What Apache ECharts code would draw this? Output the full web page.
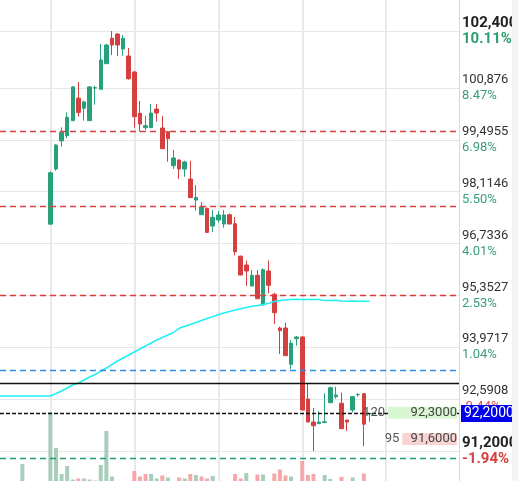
<!DOCTYPE html>
<html>
<head>
<meta charset="utf-8">
<script src="https://cdn.jsdelivr.net/npm/echarts@6/dist/echarts.min.js"></script>
<style>
  html, body { margin: 0; padding: 0; background: #fff; }
  #chart-container { width: 518px; height: 481px; }
</style>
</head>
<body>
<div id="chart-container"></div>
<script>
var chartDom = document.getElementById('chart-container');
var myChart = echarts.init(chartDom);

// time slots on the x axis, candles start at slot 9
var slotCount = 83;
var firstCandleSlot = 9;

var opens  = [97.25, 98.72, 99.47, 99.61, 100.01, 100.61, 100.34, 100.01, 100.88, 100.845,
              101.528, 102.205, 102.32, 101.92, 101.733, 101.307, 100.205, 99.822, 99.822, 100.32,
              99.813, 99.715, 98.808, 98.96, 98.72, 98.453, 97.893, 97.501, 97.67, 97.2,
              97.36, 97.253, 97.501, 97.261, 96.395, 96.16, 95.6, 95.885, 95.093, 96.0,
              95.379, 94.48, 94.48, 93.512, 94.195, 94.24, 92.587, 91.973, 91.928, 91.96,
              92.488, 92.648, 92.472, 92.027, 92.293, 92.70, 92.728, 92.19];
var closes = [98.62, 99.36, 99.70, 100.10, 100.91, 100.23, 100.51, 100.91, 100.89, 101.627,
              102.027, 102.027, 102.027, 102.205, 101.128, 100.115, 99.92, 99.875, 100.213, 100.213,
              99.261, 99.528, 99.013, 98.72, 98.907, 97.955, 97.96, 97.715, 97.03, 97.432,
              97.493, 97.493, 97.253, 96.515, 95.893, 96.0, 95.885, 95.261, 96.035, 95.619,
              94.888, 94.408, 93.741, 94.072, 94.24, 92.293, 91.973, 91.875, 91.973, 91.98,
              92.888, 92.693, 91.795, 91.973, 92.648, 92.71, 91.915, 92.2];
var lows   = [97.25, 98.675, 99.315, 99.54, 100.01, 100.115, 100.01, 100.01, 100.435, 100.845,
              101.528, 101.76, 101.733, 101.74, 101.10, 99.822, 99.715, 99.76, 99.82, 99.982,
              99.26, 98.915, 98.72, 98.453, 98.515, 97.955, 97.608, 97.5, 97.03, 97.04,
              97.288, 97.155, 97.25, 96.419, 95.89, 95.6, 95.6, 95.26, 95.09, 95.405,
              94.587, 93.787, 93.74, 93.387, 94.008, 92.29, 91.97, 91.2, 91.93, 91.955,
              92.49, 92.595, 91.79, 91.733, 92.232, 92.648, 91.325, 91.98];
var highs  = [98.65, 99.39, 99.83, 100.23, 100.93, 101.04, 100.54, 100.925, 100.94, 102.053,
              102.053, 102.40, 102.34, 102.29, 101.947, 101.33, 100.533, 100.141, 100.453, 100.453,
              100.133, 99.73, 99.227, 98.98, 98.94, 98.94, 98.293, 97.84, 97.70, 97.627,
              97.6, 97.627, 97.53, 97.44, 96.41, 96.275, 96.027, 96.027, 96.07, 96.275,
              95.421, 94.515, 94.621, 94.16, 94.267, 94.26, 93.0, 92.347, 92.259, 92.739,
              92.915, 92.915, 92.755, 92.03, 92.67, 92.739, 92.75, 92.205];

// volume from slot 4 onwards
var volumeStartSlot = 4;
var volumes = [17, 0, 0, 0, 0,
               69, 33, 7, 15, 1.5, 2.5, 2.5, 1.5, 0.5, 16,
               50, 4.5, 0, 0, 0, 10, 4.5, 7, 7, 2.5,
               5.5, 3.5, 0, 3.5, 2.5, 7, 6, 4.5, 2.5, 5,
               0, 0, 0, 7, 2.5, 8, 0, 6.5, 6.5, 0,
               7.5, 11.5, 5.5, 4.5, 0, 20, 6, 7, 0, 6,
               2, 0, 4, 0, 3.5, 0, 7.5, 0];

// cyan average line, slot 0 onwards
var avgLine = [92.667, 92.667, 92.667, 92.667, 92.667, 92.667, 92.667, 92.667, 92.667, 92.667,
               92.733, 92.8, 92.88, 92.96, 93.013, 93.093, 93.173, 93.24, 93.333, 93.413,
               93.507, 93.6, 93.68, 93.76, 93.84, 93.92, 94.0, 94.08, 94.16, 94.227,
               94.293, 94.36, 94.472, 94.525, 94.573, 94.627, 94.68, 94.733, 94.784, 94.835,
               94.88, 94.92, 94.96, 94.992, 95.027, 95.061, 95.08, 95.107, 95.141, 95.187,
               95.213, 95.227, 95.24, 95.245, 95.24, 95.24, 95.24, 95.24, 95.213, 95.213,
               95.219, 95.2, 95.192, 95.2, 95.195, 95.192, 95.192];

var prevClose = 93.0;
var lastPrice = 92.2;
var redLevels = [99.725, 97.725, 95.352];
var blueLevel = 93.36;
var greenLevel = 91.0;
var orderPrices = [92.3, 91.6];
var orderQty = [120, 95];
var priceTicks = [91.2, 92.5908, 93.9717, 95.3527, 96.7336, 98.1146, 99.4955, 100.876, 102.4];

var UP = '#26a17b', DOWN = '#d63f3f';

var categories = [];
var candleData = [];
var volumeData = [];
var lineData = [];
for (var i = 0; i < slotCount; i++) {
  categories.push(String(i));
  var c = i - firstCandleSlot;
  candleData.push(c >= 0 && c < opens.length ? [opens[c], closes[c], lows[c], highs[c]] : '-');
  var v = i - volumeStartSlot;
  if (v >= 0 && v < volumes.length) {
    var prev = c > 0 ? closes[c - 1] : prevClose;
    var up = c < 0 || c >= closes.length || closes[c] >= prev;
    volumeData.push({ value: volumes[v], itemStyle: { color: up ? '#a8cdbb' : '#f3a9a9' } });
  } else {
    volumeData.push('-');
  }
  lineData.push(i < avgLine.length ? avgLine[i] : '-');
}

function fmtPrice(p, digits) {
  return p.toFixed(digits).replace('.', ',');
}

var markData = [];
orderPrices.forEach(function (p, k) {
  markData.push({
    yAxis: p,
    lineStyle: { color: 'rgba(0,0,0,0)', width: 0 },
    label: {
      show: true, position: 'insideEnd', distance: 2, offset: [0, 3],
      formatter: '{q|' + orderQty[k] + '}{b|' + fmtPrice(p, 4) + '}',
      rich: {
        q: { fontSize: 13, color: '#555', padding: [0, 3, 0, 0] },
        b: {
          fontSize: 13, color: '#444', align: 'right', height: 12, lineHeight: 12,
          width: orderQty[k] * 0.575,
          backgroundColor: k === 0 ? '#d9f6d2' : '#f9d2d2'
        }
      }
    }
  });
});
redLevels.forEach(function (p) {
  markData.push({ yAxis: p, lineStyle: { color: '#d8403e', width: 1.3, type: [6, 4] } });
});
markData.push({ yAxis: blueLevel, lineStyle: { color: '#2a8de6', width: 1.3, type: [6, 4] } });
markData.push({ yAxis: greenLevel, lineStyle: { color: '#1b9e74', width: 1.3, type: [6, 4] } });
markData.push({ yAxis: prevClose, lineStyle: { color: '#111', width: 1.3, type: 'solid' } });
markData.push({
  yAxis: lastPrice,
  lineStyle: { color: '#111', width: 1.3, type: [4, 2] },
  label: {
    show: true, position: 'end', distance: 2,
    formatter: fmtPrice(lastPrice, 4),
    color: '#fff', fontSize: 14, backgroundColor: '#0000ee', padding: [2, 3, 1, 3]
  }
});

option = {
  animation: false,
  textStyle: { fontFamily: 'Roboto' },
  grid: [
    { left: 0, right: 59, top: 0, bottom: 0, containLabel: false, outerBoundsMode: 'none' },
    { left: 0, right: 59, bottom: 0, height: 80, containLabel: false, outerBoundsMode: 'none' }
  ],
  xAxis: [
    {
      type: 'category', data: categories, boundaryGap: false, gridIndex: 0,
      axisLine: { show: false }, axisTick: { show: false }, axisLabel: { show: false },
      splitLine: {
        show: true,
        interval: function (index) { return (index - firstCandleSlot) % 15 === 0 && index >= firstCandleSlot; },
        lineStyle: { color: '#e9e9e9', width: 2 }
      }
    },
    {
      type: 'category', data: categories, boundaryGap: false, gridIndex: 1, show: false
    }
  ],
  yAxis: [
    {
      type: 'value', position: 'right', gridIndex: 0, min: 90.4, max: 103.227, scale: true,
      axisLine: { show: true, lineStyle: { color: '#d9d9d9' } },
      axisTick: { show: false, customValues: priceTicks },
      splitLine: { show: true, lineStyle: { color: '#e6e6e6', width: 1 } },
      axisLabel: {
        customValues: priceTicks,
        margin: 3,
        formatter: function (v) {
          var pct = (v / prevClose - 1) * 100;
          var neg = pct < 0;
          var edge = v === priceTicks[0] || v === priceTicks[priceTicks.length - 1];
          if (edge) {
            return '{bv|' + fmtPrice(v, 4) + '}\n{' + (neg ? 'bn' : 'bp') + '|' + pct.toFixed(2) + '%}';
          }
          return '{v|' + fmtPrice(v, v >= 100 ? 3 : 4) + '}\n{' + (neg ? 'n' : 'p') + '|' + pct.toFixed(2) + '%}';
        },
        rich: {
          v: { fontSize: 13, color: '#333', lineHeight: 16 },
          p: { fontSize: 13, color: '#3a9e77', lineHeight: 16 },
          n: { fontSize: 13, color: '#d64b4b', lineHeight: 16 },
          bv: { fontSize: 15, fontWeight: 'bold', color: '#222', lineHeight: 16 },
          bp: { fontSize: 15, fontWeight: 'bold', color: '#2e9e6e', lineHeight: 16 },
          bn: { fontSize: 15, fontWeight: 'bold', color: '#d63f3f', lineHeight: 16 }
        }
      }
    },
    { type: 'value', gridIndex: 1, min: 0, max: 80, show: false }
  ],
  graphic: [
    { type: 'rect', left: 512, top: 0, shape: { width: 6, height: 481 }, style: { fill: '#f4f4f4' }, z: 100 }
  ],
  series: [
    {
      name: 'Volume', type: 'bar', xAxisIndex: 1, yAxisIndex: 1,
      data: volumeData, barWidth: 4, silent: true
    },
    {
      name: 'Average', type: 'line', data: lineData, showSymbol: false, silent: true,
      lineStyle: { color: '#1ff0f5', width: 1.5 }
    },
    {
      name: 'Price', type: 'candlestick', data: candleData, barWidth: 4,
      itemStyle: { color: UP, color0: DOWN, borderColor: UP, borderColor0: DOWN, borderWidth: 1 },
      markLine: {
        silent: true, symbol: ['none', 'none'], animation: false,
        label: { show: false },
        data: markData
      }
    }
  ]
};

option && myChart.setOption(option);
</script>
</body>
</html>
